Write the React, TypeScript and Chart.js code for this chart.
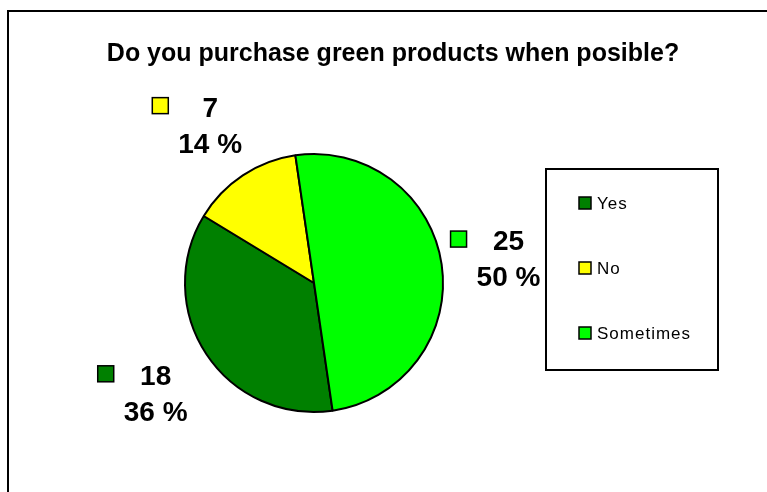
import React, { useEffect, useRef } from "react";
import { Chart, registerables } from "chart.js";

Chart.register(...registerables);

const chartTitle = "Do you purchase green products when posible?";
const categories = ["Yes", "No", "Sometimes"];
const counts = [18, 7, 25];
const sliceColors = ["#008000", "#FFFF00", "#00FF00"];

const total = counts.reduce((a, b) => a + b, 0);
const percentLabels = counts.map((v) => `${Math.round((v / total) * 100)} %`);

const overlayPlugin = {
  id: "overlay",
  afterDraw(chart: any) {
    const ctx: CanvasRenderingContext2D = chart.ctx;
    ctx.save();

    // outer frame
    ctx.strokeStyle = "#000";
    ctx.lineWidth = 2;
    ctx.strokeRect(8, 11, chart.width + 20, chart.height + 20);

    // title
    ctx.fillStyle = "#000";
    ctx.font = "bold 25px 'Liberation Sans', Arial, sans-serif";
    ctx.textAlign = "center";
    ctx.textBaseline = "alphabetic";
    ctx.fillText(chartTitle, 393, 61);

    // data labels with legend keys
    const meta = chart.getDatasetMeta(0);
    const ds = chart.data.datasets[0];
    meta.data.forEach((arc: any, i: number) => {
      const p = arc.getProps(["x", "y", "startAngle", "endAngle", "outerRadius"], true);
      const mid = (p.startAngle + p.endAngle) / 2;
      const d = p.outerRadius * 1.5;
      const cx = p.x + Math.cos(mid) * d + 3;
      const cy = p.y + Math.sin(mid) * d + 3;
      ctx.font = "bold 28px 'Liberation Sans', Arial, sans-serif";
      ctx.textAlign = "center";
      ctx.textBaseline = "alphabetic";
      ctx.fillStyle = "#000";
      const l1 = String(ds.data[i]);
      const l2 = percentLabels[i];
      const y1 = cy - 8;
      const y2 = cy + 28;
      ctx.fillText(l1, cx, y1);
      ctx.fillText(l2, cx, y2);
      const w = Math.max(ctx.measureText(l1).width, ctx.measureText(l2).width);
      const keyRight = cx - w / 2 - 10;
      const ks = 16;
      ctx.fillStyle = ds.backgroundColor[i];
      ctx.fillRect(keyRight - ks, y1 - 19, ks, ks);
      ctx.lineWidth = 1.5;
      ctx.strokeStyle = "#000";
      ctx.strokeRect(keyRight - ks, y1 - 19, ks, ks);
    });

    // legend box
    ctx.lineWidth = 2;
    ctx.strokeStyle = "#000";
    ctx.strokeRect(546, 169, 172, 201);
    const labels = chart.data.labels as string[];
    labels.forEach((lab, i) => {
      const yc = 203 + i * 65;
      ctx.fillStyle = ds.backgroundColor[i];
      ctx.fillRect(579, yc - 6, 12, 12);
      ctx.lineWidth = 1.5;
      ctx.strokeStyle = "#000";
      ctx.strokeRect(579, yc - 6, 12, 12);
      ctx.fillStyle = "#000";
      ctx.font = "17px 'Liberation Sans', Arial, sans-serif";
      (ctx as any).letterSpacing = "1px";
      ctx.textAlign = "left";
      ctx.textBaseline = "middle";
      ctx.fillText(lab, 597, yc + 1);
      (ctx as any).letterSpacing = "0px";
    });

    ctx.restore();
  },
};

export default function App() {
  const canvasRef = useRef<HTMLCanvasElement | null>(null);

  useEffect(() => {
    if (!canvasRef.current) return;
    const chart = new Chart(canvasRef.current, {
      type: "pie",
      data: {
        labels: categories,
        datasets: [
          {
            data: counts,
            backgroundColor: sliceColors,
            borderColor: "#000",
            borderWidth: 2,
          },
        ],
      },
      options: {
        responsive: false,
        animation: false,
        rotation: 171.7,
        layout: { padding: { left: 184, top: 153, right: 323, bottom: 79 } },
        plugins: {
          legend: { display: false },
          title: { display: false },
          tooltip: { enabled: false },
        },
      },
      plugins: [overlayPlugin],
    });
    return () => chart.destroy();
  }, []);

  return (
    <div style={{ position: "fixed", left: 0, top: 0, width: 767, height: 492, overflow: "hidden", background: "#fff" }}>
      <canvas ref={canvasRef} width={767} height={492} style={{ width: 767, height: 492 }} />
    </div>
  );
}
